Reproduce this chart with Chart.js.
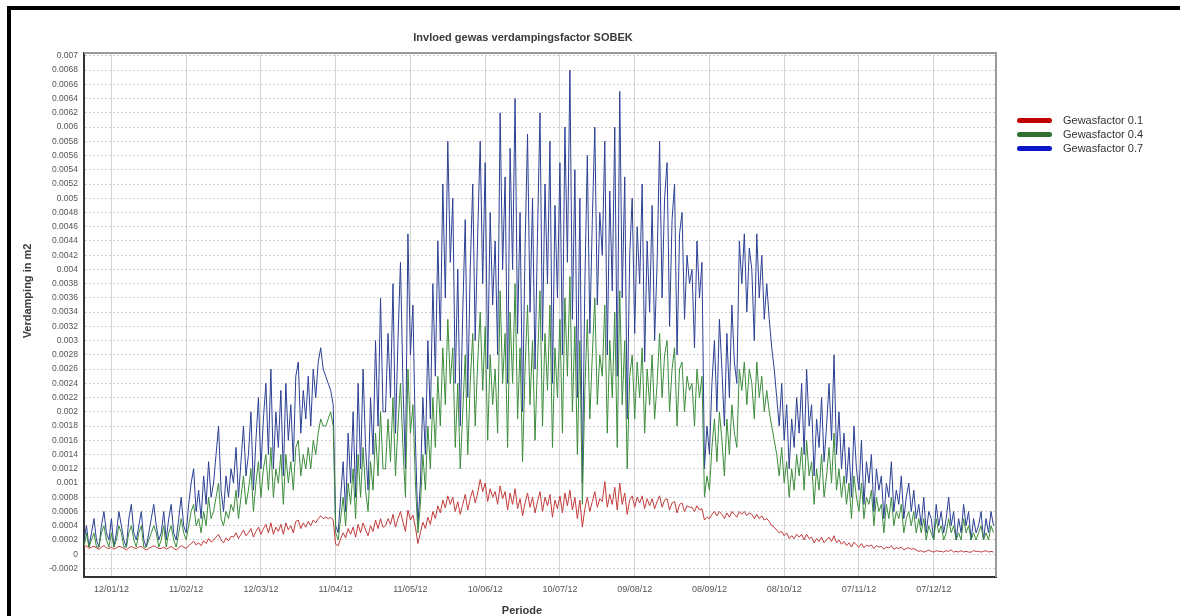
<!DOCTYPE html>
<html>
<head>
<meta charset="utf-8">
<title>Invloed gewas verdampingsfactor SOBEK</title>
<script src="https://cdn.jsdelivr.net/npm/chart.js@4.4.1/dist/chart.umd.min.js"></script>
<style>
  html, body { margin: 0; padding: 0; background: #fff; }
  body { width: 1180px; height: 616px; position: relative; overflow: hidden; font-family: 'Liberation Sans', Arial, sans-serif; }
  #frame { position: absolute; left: 7px; top: 6px; right: 0; bottom: 0; border-top: 4px solid #000; border-left: 4px solid #000; pointer-events: none; }
  #wrap { position: absolute; left: 0; top: 0; width: 1045px; height: 616px; }
  .txt { position: absolute; font-size: 11px; font-weight: bold; color: #3a3a3a; text-align: center; white-space: nowrap; line-height: 14px; }
  #title { left: 0; width: 1046px; top: 30px; }
  #xtitle { left: 422px; width: 200px; top: 603px; }
  #ytitle { left: -73px; width: 200px; top: 284px; transform: rotate(-90deg); }
  #legend { position: absolute; left: 1017px; top: 113px; font-size: 11px; color: #333; }
  #legend .item { height: 14px; line-height: 14px; white-space: nowrap; }
  #legend .sw { display: inline-block; width: 35px; height: 5px; border-radius: 3px; vertical-align: middle; margin-right: 11px; position: relative; top: -1px; }
</style>
</head>
<body>
<div id="wrap"><canvas id="chart"></canvas></div>
<div id="title" class="txt">Invloed gewas verdampingsfactor SOBEK</div>
<div id="ytitle" class="txt">Verdamping in m2</div>
<div id="xtitle" class="txt">Periode</div>
<div id="legend"></div>
<div id="frame"></div>
<script>
// Dagelijkse verdamping 2012 (m), dag 0 = 1 januari
const seriesNames = ['Gewasfactor 0.1', 'Gewasfactor 0.4', 'Gewasfactor 0.7'];

const gf01 = [
  0.0001,0.00012,0.00008,0.0001,0.00011,0.00009,0.00007,0.0001,0.00012,0.00009,0.00008,0.0001,0.00007,0.00009,0.00011,0.0001,0.00008,0.00006,0.00009,0.00011,0.00009,0.00008,0.0001,0.00011,0.00008,0.00006,0.00008,0.0001,0.00012,0.0001,0.00008,
  0.00008,0.0001,0.00007,0.00009,0.00011,0.00008,0.00006,0.00009,0.00012,0.0001,0.00008,0.00012,0.00015,0.00018,0.00013,0.00016,0.00012,0.00019,0.00015,0.00022,0.00017,0.0002,0.00024,0.00028,0.0002,0.00016,0.00023,0.00019,0.00025,
  0.00024,0.0003,0.00022,0.00028,0.00034,0.00026,0.0003,0.00036,0.00024,0.00032,0.00038,0.00028,0.00036,0.00042,0.0003,0.00044,0.00028,0.00038,0.00032,0.00042,0.00028,0.00044,0.00034,0.0004,0.0003,0.00046,0.00048,0.00036,0.00044,0.00038,0.00046,
  0.0004,0.00048,0.00044,0.0005,0.00054,0.0005,0.00052,0.0005,0.00052,0.00048,0.00014,0.00012,0.00022,0.0003,0.00023,0.00036,0.00028,0.00038,0.00024,0.00042,0.0003,0.00044,0.00034,0.00026,0.0004,0.00032,0.00048,0.00036,0.0005,0.00038,
  0.0004,0.0005,0.00042,0.00056,0.00038,0.0005,0.0006,0.00045,0.00032,0.00062,0.00048,0.00055,0.00038,0.00015,0.0003,0.00045,0.00036,0.00052,0.00042,0.0006,0.0005,0.00068,0.00058,0.00076,0.00065,0.00082,0.0007,0.0008,0.0006,0.00074,0.00056,
  0.0007,0.00084,0.00062,0.00078,0.0009,0.00072,0.00086,0.00105,0.00088,0.001,0.00074,0.00092,0.0008,0.00088,0.0007,0.00096,0.00078,0.00088,0.00062,0.00086,0.0007,0.00092,0.00064,0.00078,0.00054,0.00072,0.00086,0.00066,0.0008,0.00058,
  0.00074,0.00088,0.0006,0.0008,0.00068,0.00084,0.00052,0.00076,0.00064,0.00082,0.00058,0.00086,0.00068,0.0009,0.00062,0.0008,0.0005,0.00076,0.00038,0.00064,0.0008,0.0006,0.00074,0.00088,0.00066,0.00078,0.00074,0.00102,0.00066,0.00084,0.0007,
  0.00094,0.00062,0.001,0.0007,0.00086,0.00056,0.00076,0.00082,0.00066,0.0008,0.00072,0.00082,0.00064,0.00078,0.00068,0.00078,0.00064,0.00074,0.00082,0.00066,0.00076,0.00078,0.00062,0.00072,0.00074,0.00058,0.0007,0.00072,0.0006,0.00068,0.00066,
  0.00066,0.0006,0.00068,0.00062,0.00064,0.00048,0.00052,0.0005,0.00056,0.0006,0.00054,0.0006,0.00056,0.0005,0.00058,0.00052,0.0006,0.00056,0.00052,0.0006,0.00056,0.0006,0.00054,0.00058,0.00056,0.0005,0.00056,0.0005,0.00054,0.00048,
  0.0005,0.00046,0.0004,0.00038,0.00034,0.0003,0.00032,0.00026,0.0003,0.00022,0.00026,0.00022,0.00028,0.00024,0.00028,0.0002,0.00028,0.00022,0.00024,0.00016,0.00022,0.00018,0.00024,0.00016,0.0002,0.00024,0.00018,0.00026,0.00016,0.0002,0.00014,
  0.00018,0.00012,0.00016,0.0001,0.00017,0.00013,0.0001,0.00015,0.00009,0.00013,0.00011,0.00013,0.00008,0.00012,0.0001,0.00011,0.00007,0.0001,0.00009,0.00012,0.00007,0.00009,0.00008,0.0001,0.00006,0.00008,0.00009,0.00007,0.00008,0.00006,
  0.00004,0.00005,0.00003,0.00004,0.00006,0.00004,0.00003,0.00005,0.00004,0.00004,0.00003,0.00005,0.00004,0.00006,0.00003,0.00004,0.00003,0.00005,0.00003,0.00004,0.00003,0.00003,0.00005,0.00004,0.00004,0.00003,0.00004,0.00005,0.00003,0.00004,0.00003
];

const gf04 = [
  0.0001,0.0003,0.0001,0.0002,0.0003,0.0001,0.0001,0.0003,0.0004,0.0002,0.0001,0.0003,0.0001,0.0002,0.0004,0.0003,0.0001,0.0001,0.0003,0.0004,0.0002,0.0001,0.0003,0.0004,0.0001,0.0001,0.0002,0.0003,0.0004,0.0003,0.0001,
  0.0002,0.0004,0.0001,0.0003,0.0004,0.0002,0.0001,0.0003,0.0005,0.0003,0.0002,0.0004,0.0006,0.0007,0.0004,0.0005,0.0003,0.0006,0.0004,0.0008,0.0005,0.0006,0.0008,0.001,0.0005,0.0004,0.0006,0.0005,0.0007,
  0.0006,0.0009,0.0005,0.0008,0.0011,0.0007,0.0009,0.0012,0.0006,0.001,0.0013,0.0008,0.0012,0.0014,0.0009,0.0015,0.0008,0.0012,0.001,0.0014,0.0007,0.0014,0.001,0.0013,0.0009,0.0015,0.0016,0.0011,0.0014,0.0012,0.0015,
  0.0012,0.0016,0.0014,0.0017,0.0019,0.0018,0.0018,0.0019,0.002,0.0018,0.0003,0.0002,0.0005,0.0008,0.0004,0.001,0.0007,0.0012,0.0005,0.0014,0.0008,0.0015,0.0009,0.0006,0.0013,0.0009,0.0017,0.0011,0.002,0.0012,
  0.0012,0.0019,0.0013,0.0022,0.0011,0.0018,0.0024,0.0015,0.0008,0.0026,0.0017,0.0021,0.001,0.0003,0.0007,0.0014,0.0009,0.0018,0.0012,0.0022,0.0015,0.0025,0.0018,0.0029,0.0021,0.0033,0.0024,0.0029,0.0015,0.0024,0.0012,
  0.002,0.0028,0.0014,0.0024,0.0031,0.0018,0.0027,0.0034,0.0023,0.0032,0.0016,0.0028,0.0021,0.0026,0.0017,0.0037,0.0024,0.0031,0.0015,0.0034,0.0024,0.0038,0.0019,0.0029,0.0013,0.0026,0.0035,0.0021,0.003,0.0016,
  0.0027,0.0037,0.0018,0.0031,0.0023,0.0035,0.0015,0.0029,0.0022,0.0033,0.0017,0.0036,0.0025,0.0039,0.002,0.0032,0.0014,0.003,0.0007,0.0023,0.0033,0.0019,0.0028,0.0036,0.0021,0.0028,0.0025,0.0035,0.0017,0.003,0.0022,
  0.0034,0.0015,0.0037,0.0021,0.003,0.0012,0.0025,0.0028,0.0019,0.0027,0.0022,0.0029,0.0017,0.0026,0.0021,0.0028,0.0019,0.0024,0.0031,0.0022,0.0028,0.003,0.002,0.0026,0.0029,0.0018,0.0026,0.0027,0.002,0.0025,0.0023,
  0.0024,0.0018,0.0026,0.0022,0.0025,0.0008,0.0011,0.0009,0.0015,0.0019,0.0013,0.002,0.0016,0.0011,0.0019,0.0014,0.0021,0.0017,0.0015,0.0026,0.0023,0.0027,0.0021,0.0026,0.0024,0.0019,0.0027,0.0022,0.0025,0.002,
  0.0023,0.002,0.0018,0.0016,0.0014,0.0011,0.0015,0.001,0.0013,0.0008,0.0012,0.0009,0.0014,0.0011,0.0015,0.0009,0.0016,0.0011,0.0013,0.0007,0.0012,0.0009,0.0014,0.0008,0.0011,0.0015,0.001,0.0017,0.0009,0.0012,0.0008,
  0.0011,0.0007,0.001,0.0005,0.0011,0.0008,0.0006,0.001,0.0005,0.0008,0.0007,0.0009,0.0004,0.0008,0.0006,0.0007,0.0003,0.0007,0.0005,0.0008,0.0004,0.0006,0.0005,0.0007,0.0003,0.0005,0.0006,0.0004,0.0006,0.0003,
  0.0005,0.0003,0.0005,0.0002,0.0004,0.0003,0.0002,0.0005,0.0003,0.0004,0.0002,0.0003,0.0005,0.0003,0.0004,0.0002,0.0003,0.0002,0.0005,0.0003,0.0004,0.0002,0.0003,0.0002,0.0003,0.0004,0.0002,0.0003,0.0002,0.0004,0.0003
];

const gf07 = [
  0.0002,0.0004,0.0001,0.0003,0.0005,0.0002,0.0001,0.0004,0.0006,0.0003,0.0002,0.0005,0.0001,0.0003,0.0006,0.0004,0.0002,0.0001,0.0005,0.0007,0.0003,0.0002,0.0004,0.0006,0.0002,0.0001,0.0003,0.0005,0.0007,0.0004,0.0002,
  0.0003,0.0006,0.0002,0.0005,0.0007,0.0003,0.0002,0.0005,0.0008,0.0004,0.0003,0.0007,0.001,0.0012,0.0006,0.0009,0.0005,0.0011,0.0007,0.0013,0.0008,0.001,0.0014,0.0018,0.0009,0.0006,0.0011,0.0008,0.0012,
  0.001,0.0015,0.0008,0.0013,0.0018,0.0011,0.0014,0.002,0.0009,0.0016,0.0022,0.0012,0.0019,0.0024,0.0014,0.0026,0.0012,0.002,0.0015,0.0023,0.0011,0.0024,0.0016,0.0021,0.0013,0.0025,0.0027,0.0017,0.0023,0.0019,0.0025,
  0.0018,0.0026,0.0022,0.0027,0.0029,0.0026,0.0025,0.0024,0.0023,0.0021,0.0004,0.0003,0.0008,0.0013,0.0006,0.0017,0.001,0.002,0.0008,0.0024,0.0012,0.0026,0.0015,0.0009,0.0022,0.0014,0.003,0.0018,0.0036,0.002,
  0.002,0.0031,0.0022,0.0038,0.0017,0.003,0.0041,0.0024,0.0012,0.0045,0.0028,0.0035,0.0016,0.0004,0.001,0.0022,0.0014,0.003,0.0019,0.0038,0.0025,0.0044,0.003,0.0052,0.0036,0.0058,0.0041,0.005,0.0024,0.004,0.0018,
  0.0034,0.0047,0.0022,0.004,0.0052,0.003,0.0045,0.0058,0.0038,0.0055,0.0026,0.0048,0.0035,0.0044,0.0028,0.0062,0.004,0.0053,0.0024,0.0057,0.004,0.0064,0.0031,0.0048,0.002,0.0043,0.0059,0.0034,0.005,0.0026,
  0.0045,0.0062,0.003,0.0052,0.0038,0.0058,0.0024,0.0049,0.0036,0.0055,0.0028,0.006,0.0041,0.0068,0.0033,0.0054,0.0022,0.005,0.001,0.0038,0.0056,0.0031,0.0047,0.006,0.0035,0.0048,0.0042,0.0058,0.0028,0.0051,0.0037,
  0.006,0.0025,0.0065,0.0036,0.0053,0.0019,0.0042,0.005,0.0031,0.0046,0.0038,0.0052,0.0027,0.0044,0.0034,0.0049,0.003,0.0041,0.0058,0.0036,0.005,0.0055,0.0032,0.0047,0.0052,0.0028,0.0045,0.0048,0.0033,0.0042,0.0038,
  0.004,0.0029,0.0044,0.0036,0.0041,0.0012,0.0018,0.0014,0.0024,0.003,0.002,0.0033,0.0026,0.0018,0.0031,0.0022,0.0035,0.0027,0.0024,0.0044,0.0038,0.0045,0.0034,0.0043,0.004,0.003,0.0045,0.0036,0.0042,0.0033,
  0.0038,0.0033,0.0029,0.0026,0.0022,0.0018,0.0024,0.0016,0.0021,0.0012,0.0019,0.0015,0.0022,0.0017,0.0024,0.0014,0.0026,0.0018,0.0021,0.0011,0.0019,0.0015,0.0022,0.0013,0.0018,0.0024,0.0016,0.0028,0.0014,0.002,0.0012,
  0.0017,0.001,0.0015,0.0008,0.0018,0.0012,0.0009,0.0016,0.0007,0.0013,0.001,0.0014,0.0006,0.0012,0.0009,0.0011,0.0005,0.001,0.0008,0.0013,0.0006,0.0009,0.0007,0.0011,0.0005,0.0008,0.001,0.0006,0.0009,0.0005,
  0.0007,0.0004,0.0008,0.0003,0.0006,0.0005,0.0002,0.0007,0.0004,0.0006,0.0003,0.0005,0.0008,0.0004,0.0006,0.0002,0.0005,0.0003,0.0007,0.0004,0.0006,0.0002,0.0005,0.0003,0.0004,0.0006,0.0002,0.0005,0.0003,0.0006,0.0004
];

// as-labels: dagnummer van elke markering + tekst
const xTickDays = [11, 41, 71, 101, 131, 161, 191, 221, 251, 281, 311, 341];
const xTickLabels = ['12/01/12', '11/02/12', '12/03/12', '11/04/12', '11/05/12', '10/06/12',
                     '10/07/12', '09/08/12', '08/09/12', '08/10/12', '07/11/12', '07/12/12'];
const yTicks = [-0.0002, 0, 0.0002, 0.0004, 0.0006, 0.0008, 0.001, 0.0012, 0.0014, 0.0016, 0.0018,
                0.002, 0.0022, 0.0024, 0.0026, 0.0028, 0.003, 0.0032, 0.0034, 0.0036, 0.0038,
                0.004, 0.0042, 0.0044, 0.0046, 0.0048, 0.005, 0.0052, 0.0054, 0.0056, 0.0058,
                0.006, 0.0062, 0.0064, 0.0066, 0.0068, 0.007];

const lineColors = ['#c23b3b', '#3c8c3c', '#2b3f93'];
const legendColors = ['#c00000', '#2f6f2f', '#0a14c8'];

const FONT = "'Liberation Sans', Arial, sans-serif";

function toPoints(values) {
  return values.map((v, i) => ({ x: i, y: v }));
}

// grijze boven- en rechterrand van het plotvlak
const plotFrame = {
  id: 'plotFrame',
  afterDraw(chart) {
    const { ctx, chartArea: a } = chart;
    ctx.save();
    ctx.strokeStyle = '#9a9a9a';
    ctx.lineWidth = 2;
    ctx.beginPath();
    ctx.moveTo(a.left, a.top);
    ctx.lineTo(a.right, a.top);
    ctx.lineTo(a.right, a.bottom);
    ctx.stroke();
    ctx.restore();
  }
};

const chart = new Chart(document.getElementById('chart'), {
  type: 'line',
  data: {
    datasets: [gf01, gf04, gf07].map((values, i) => ({
      label: seriesNames[i],
      data: toPoints(values),
      borderColor: lineColors[i],
      borderWidth: 1,
      pointRadius: 0,
      tension: 0
    }))
  },
  options: {
    responsive: true,
    maintainAspectRatio: false,
    animation: false,
    layout: { padding: { left: 0, right: 49, top: 53, bottom: 0 } },
    plugins: {
      legend: { display: false },
      tooltip: { enabled: false },
      title: { display: false }
    },
    scales: {
      x: {
        type: 'linear',
        min: 0,
        max: 366,
        afterBuildTicks: scale => { scale.ticks = xTickDays.map(v => ({ value: v })); },
        afterFit: scale => { scale.height = 39; },
        ticks: {
          autoSkip: false,
          maxRotation: 0,
          padding: 7,
          color: '#555',
          font: { family: FONT, size: 9 },
          callback: (value, index) => xTickLabels[index]
        },
        grid: { color: '#d4d4d4', lineWidth: 1, drawTicks: false },
        border: { color: '#333', width: 2 }
      },
      y: {
        min: -0.00032,
        max: 0.00704,
        afterBuildTicks: scale => { scale.ticks = yTicks.map(v => ({ value: v })); },
        afterFit: scale => { scale.width = 84; },
        ticks: {
          padding: 6,
          color: '#555',
          font: { family: FONT, size: 8.5 },
          callback: value => String(parseFloat(value.toFixed(5)))
        },
        grid: { color: '#cfcfcf', lineWidth: 1, drawTicks: false },
        border: { color: '#333', width: 2, dash: [2, 2] }
      }
    }
  },
  plugins: [plotFrame]
});

// legenda naast de grafiek
const legend = document.getElementById('legend');
chart.data.datasets.forEach((ds, i) => {
  const item = document.createElement('div');
  item.className = 'item';
  const sw = document.createElement('span');
  sw.className = 'sw';
  sw.style.background = legendColors[i];
  item.appendChild(sw);
  item.appendChild(document.createTextNode(ds.label));
  legend.appendChild(item);
});
</script>
</body>
</html>
